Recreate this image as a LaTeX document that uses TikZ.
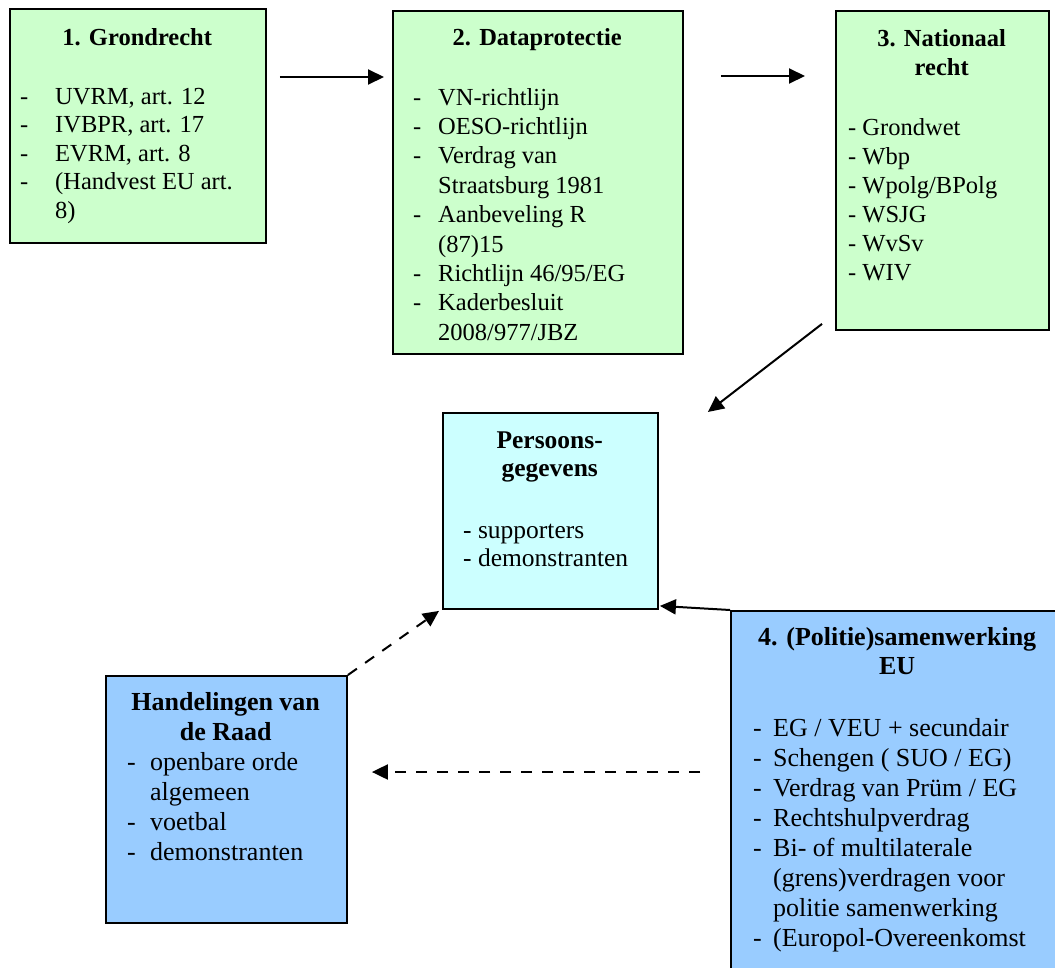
\documentclass[tikz,border=0pt]{standalone}
\usepackage{fontspec}
\setmainfont{Liberation Serif}
\usetikzlibrary{arrows.meta,calc}

\definecolor{boxgreen}{HTML}{CCFFCC}
\definecolor{boxcyan}{HTML}{CCFFFF}
\definecolor{boxblue}{HTML}{99CCFF}

% hanging list entries: dash at \dashpos, text at \textpos
\newlength\dashpos
\newlength\textpos
\newcommand\itm[1]{\par\noindent\hangindent=\textpos\hangafter=1%
  \makebox[\textpos][l]{\hspace{\dashpos}-}#1}
\newcommand\plainitm[1]{\par\noindent\hspace*{\dashpos}- #1}

\tikzset{
  panel/.style={draw=black, line width=1.9pt, anchor=north west, inner sep=0pt},
  blocktext/.style={anchor=base west, inner sep=0pt},
  arr/.style={line width=2pt, -{Triangle[length=16pt,width=15pt]}},
  darr/.style={arr, dash pattern=on 11pt off 10pt},
}

\begin{document}
\begin{tikzpicture}[x=1pt, y=-1pt]
  \useasboundingbox (0,0) rectangle (1055,967);
  \clip (0,0) rectangle (1055,967);

  % boxes
  \node[panel, fill=boxgreen, minimum width=256pt, minimum height=234pt] (b1) at (9,8) {};
  \node[panel, fill=boxgreen, minimum width=290pt, minimum height=343pt] (b2) at (392,10) {};
  \node[panel, fill=boxgreen, minimum width=213pt, minimum height=319pt] (b3) at (835,10) {};
  \node[panel, fill=boxcyan, minimum width=215pt, minimum height=196pt] (bP) at (442,412) {};
  \node[panel, fill=boxblue, minimum width=241pt, minimum height=247pt] (bH) at (105,675) {};
  \node[panel, fill=boxblue, minimum width=340pt, minimum height=400pt] (b4) at (730,610) {};

  % texts
  \node[blocktext] (t1) at (9,45) {\begin{minipage}[t]{256pt}
    \fontsize{24.5}{28.5}\selectfont
    \centering\textbf{1. Grondrecht}\par\vspace{30.5pt}
    \raggedright\setlength\dashpos{11pt}\setlength\textpos{46pt}%
    \itm{UVRM, art. 12}\itm{IVBPR, art. 17}\itm{EVRM, art. 8}%
    \itm{(Handvest EU art.\newline 8)}\par
  \end{minipage}};

  \node[blocktext] (t2) at (392,45) {\begin{minipage}[t]{290pt}
    \fontsize{24.5}{29.4}\selectfont
    \centering\textbf{2. Dataprotectie}\par\vspace{30.6pt}
    \raggedright\setlength\dashpos{21pt}\setlength\textpos{46pt}%
    \itm{VN-richtlijn}\itm{OESO-richtlijn}%
    \itm{Verdrag van\newline Straatsburg 1981}%
    \itm{Aanbeveling R\newline (87)15}%
    \itm{Richtlijn 46/95/EG}%
    \itm{Kaderbesluit\newline 2008/977/JBZ}\par
  \end{minipage}};

  \node[blocktext] (t3) at (835,46) {\begin{minipage}[t]{213pt}
    \fontsize{24.5}{29}\selectfont
    \centering\textbf{3. Nationaal\\ recht}\par\vspace{31pt}
    \raggedright\setlength\dashpos{13pt}%
    \plainitm{Grondwet}\plainitm{Wbp}\plainitm{Wpolg/BPolg}%
    \plainitm{WSJG}\plainitm{WvSv}\plainitm{WIV}\par
  \end{minipage}};

  \node[blocktext] (tP) at (442,448) {\begin{minipage}[t]{215pt}
    \fontsize{25.5}{28}\selectfont
    \centering\textbf{Persoons-\\ gegevens}\par\vspace{34pt}
    \raggedright\setlength\dashpos{21pt}%
    \plainitm{supporters}\plainitm{demonstranten}\par
  \end{minipage}};

  \node[blocktext] (tH) at (105,710) {\begin{minipage}[t]{241pt}
    \fontsize{26}{30}\selectfont
    \centering\textbf{Handelingen van\\ de Raad}\par
    \raggedright\setlength\dashpos{22pt}\setlength\textpos{45pt}%
    \itm{openbare orde\newline algemeen}\itm{voetbal}\itm{demonstranten}\par
  \end{minipage}};

  \node[blocktext] (t4) at (730,645) {\begin{minipage}[t]{334pt}
    \fontsize{26}{29}\selectfont
    \centering\textbf{4. (Politie)samenwerking\\ EU}\par\vspace{32pt}
    \fontsize{26}{30}\selectfont
    \raggedright\setlength\dashpos{23pt}\setlength\textpos{43pt}%
    \itm{EG / VEU + secundair}\itm{Schengen ( SUO / EG)}%
    \itm{Verdrag van Prüm / EG}\itm{Rechtshulpverdrag}%
    \itm{Bi- of multilaterale\newline (grens)verdragen voor\newline politie samenwerking}%
    \itm{(Europol-Overeenkomst}\par
  \end{minipage}};

  % connectors
  \draw[arr] ([shift={(13,69)}]b1.north east) -- ([shift={(-8,67)}]b2.north west);
  \draw[arr] ([shift={(37,66)}]b2.north east) -- ([shift={(-30,66)}]b3.north west);
  \draw[arr] ([shift={(-13,-7)}]b3.south west) -- ([shift={(49,0)}]bP.north east);
  \draw[arr] (b4.north west) -- ([shift={(1,-4)}]bP.south east);
  \draw[darr] (bH.north east) -- ([shift={(-3,1)}]bP.south west);
  \draw[darr] ([shift={(-30,162)}]b4.north west) -- ([shift={(24,97)}]bH.north east);
\end{tikzpicture}
\end{document}
